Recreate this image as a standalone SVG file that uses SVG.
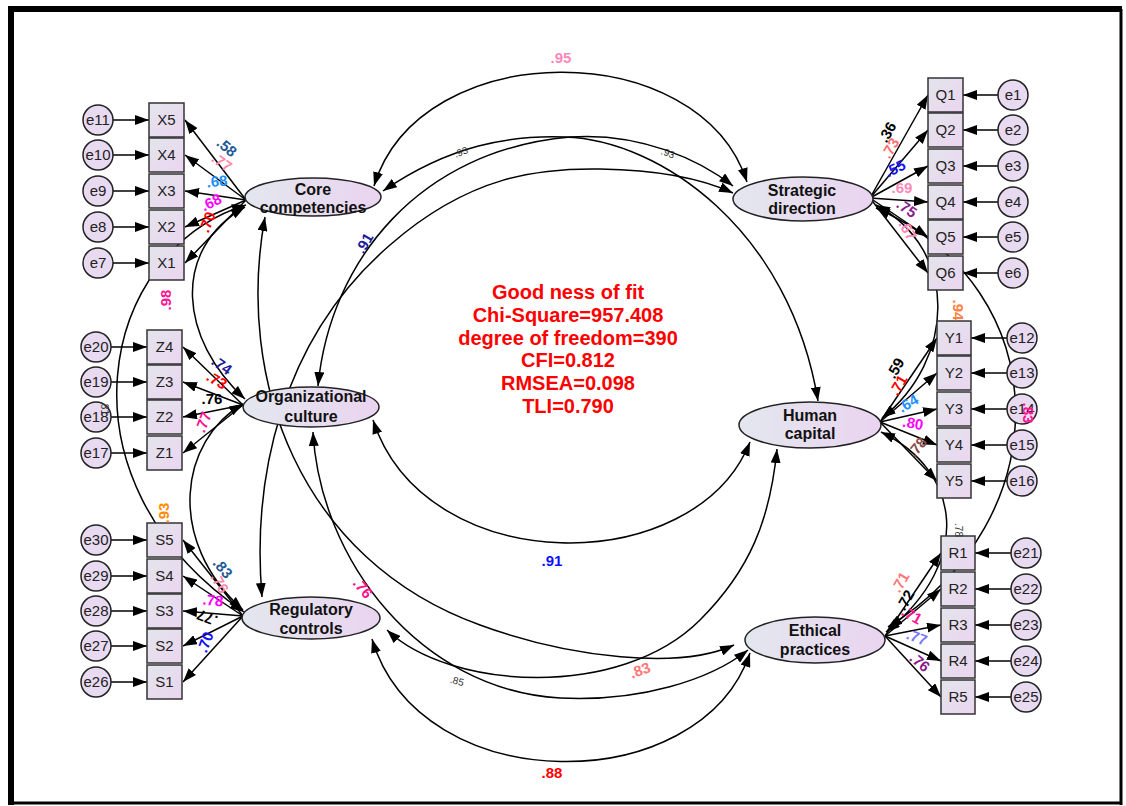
<svg xmlns="http://www.w3.org/2000/svg" width="1126" height="806" viewBox="0 0 1126 806">
<defs>
<linearGradient id="gBox" x1="0" y1="0" x2="1" y2="1"><stop offset="0" stop-color="#e3e5ec"/><stop offset="1" stop-color="#ebd5f0"/></linearGradient>
<linearGradient id="gLat" x1="0" y1="0" x2="1" y2="0"><stop offset="0" stop-color="#e3e7ee"/><stop offset="1" stop-color="#ead4f0"/></linearGradient>
<marker id="ar" viewBox="0 0 14 10" markerUnits="userSpaceOnUse" markerWidth="14" markerHeight="10" refX="14" refY="5" orient="auto-start-reverse"><path d="M0,0 L14,5 L0,10 z" fill="#000"/></marker>
</defs>
<style>
.box{fill:url(#gBox);stroke:#333;stroke-width:1.5}
.lat{fill:url(#gLat);stroke:#222;stroke-width:1.5}
.err{fill:#e8daf0;stroke:#222;stroke-width:1.5}
.t{font-family:"Liberation Sans",Arial,sans-serif;font-size:15px;fill:#222;text-anchor:middle}
.lt{font-family:"Liberation Sans",Arial,sans-serif;font-size:16px;font-weight:bold;fill:#111;text-anchor:middle}
.ln{stroke:#000;stroke-width:1.5;fill:none;marker-end:url(#ar)}
.cov{stroke:#000;stroke-width:1.5;fill:none;marker-start:url(#ar);marker-end:url(#ar)}
.l{font-family:"Liberation Sans",Arial,sans-serif;font-size:15px;font-weight:bold;text-anchor:middle;dominant-baseline:central}
.s{font-family:"Liberation Sans",Arial,sans-serif;font-size:10px;fill:#333;text-anchor:middle;dominant-baseline:central}
.fit{font-family:"Liberation Sans",Arial,sans-serif;font-size:20px;font-weight:bold;fill:#ff0000;text-anchor:middle}
</style>
<rect x="0" y="0" width="1126" height="806" fill="#fff"/>
<g id="frame" stroke="#000" fill="none">
<line x1="8" y1="9" x2="1122" y2="9" stroke-width="6"/>
<line x1="11" y1="6" x2="11" y2="805" stroke-width="6"/>
<line x1="1121" y1="9" x2="1121" y2="805" stroke-width="3"/>
<line x1="8" y1="803" x2="1122" y2="803" stroke-width="3"/>
</g>

<g id="connectors">
<path class="ln" d="M246,200 L185,120"/><path class="ln" d="M246,200 L185,155"/><path class="ln" d="M246,200 L185,191"/><path class="ln" d="M246,200 L185,227"/><path class="ln" d="M246,200 L185,263"/>
<path class="ln" d="M243,405 L183,347"/><path class="ln" d="M243,405 L183,382"/><path class="ln" d="M243,405 L183,417"/><path class="ln" d="M243,405 L183,453"/>
<path class="ln" d="M243,616 L183,540"/><path class="ln" d="M243,616 L183,576"/><path class="ln" d="M243,616 L183,611"/><path class="ln" d="M243,616 L183,646"/><path class="ln" d="M243,616 L183,682"/>
<path class="ln" d="M870,198 L928,95"/><path class="ln" d="M870,198 L928,130"/><path class="ln" d="M870,198 L928,166"/><path class="ln" d="M870,198 L928,202"/><path class="ln" d="M870,198 L928,237"/><path class="ln" d="M870,198 L928,273"/>
<path class="ln" d="M880,422 L937,338"/><path class="ln" d="M880,422 L937,373"/><path class="ln" d="M880,422 L937,409"/><path class="ln" d="M880,422 L937,445"/><path class="ln" d="M880,422 L937,481"/>
<path class="ln" d="M885,636 L941,553"/><path class="ln" d="M885,636 L941,589"/><path class="ln" d="M885,636 L941,625"/><path class="ln" d="M885,636 L941,661"/><path class="ln" d="M885,636 L941,697"/>
<path class="ln" d="M113,120 L149,120"/><path class="ln" d="M113,155 L149,155"/><path class="ln" d="M113,191 L149,191"/><path class="ln" d="M113,227 L149,227"/><path class="ln" d="M113,263 L149,263"/>
<path class="ln" d="M111,347 L147,347"/><path class="ln" d="M111,382 L147,382"/><path class="ln" d="M111,417 L147,417"/><path class="ln" d="M111,453 L147,453"/>
<path class="ln" d="M111,540 L147,540"/><path class="ln" d="M111,576 L147,576"/><path class="ln" d="M111,611 L147,611"/><path class="ln" d="M111,646 L147,646"/><path class="ln" d="M111,682 L147,682"/>
<path class="ln" d="M998,95 L963,95"/><path class="ln" d="M998,130 L963,130"/><path class="ln" d="M998,166 L963,166"/><path class="ln" d="M998,202 L963,202"/><path class="ln" d="M998,237 L963,237"/><path class="ln" d="M998,273 L963,273"/>
<path class="ln" d="M1007,338 L971,338"/><path class="ln" d="M1007,373 L971,373"/><path class="ln" d="M1007,409 L971,409"/><path class="ln" d="M1007,445 L971,445"/><path class="ln" d="M1007,481 L971,481"/>
<path class="ln" d="M1011,553 L975,553"/><path class="ln" d="M1011,589 L975,589"/><path class="ln" d="M1011,625 L975,625"/><path class="ln" d="M1011,661 L975,661"/><path class="ln" d="M1011,697 L975,697"/>
<path class="cov" d="M374,186 C420,35 700,35 747,182"/>
<path class="cov" d="M383,191 C450,145 510,135 565,137 C660,140 790,230 818,401"/>
<path class="cov" d="M318,386 C330,260 420,150 570,137 C640,132 700,160 733,186"/>
<path class="cov" d="M262,597 C252,480 280,340 390,245 C470,175 540,168 600,169 C660,170 705,180 733,193"/>
<path class="cov" d="M245,207 C170,250 180,340 245,399"/>
<path class="cov" d="M246,205 C100,250 50,480 244,612"/>
<path class="cov" d="M243,404 C180,440 165,540 243,610"/>
<path class="cov" d="M876,205 C960,250 955,360 882,418"/>
<path class="cov" d="M876,208 C1060,290 1060,520 888,627"/>
<path class="cov" d="M881,432 C960,470 975,560 886,632"/>
<path class="cov" d="M373,420 C425,580 695,580 750,442"/>
<path class="cov" d="M372,639 C420,800 700,800 750,653"/>
<path class="cov" d="M387,630 C450,690 620,700 700,620 C750,570 770,520 777,449"/>
<path class="cov" d="M265,217 C235,380 300,560 480,625 C570,658 680,670 734,645"/>
<path class="cov" d="M313,432 C320,560 420,690 560,698 C640,702 710,680 748,650"/>
</g>

<g id="lat-CC"><ellipse class="lat" cx="313" cy="197" rx="68" ry="19"/><text class="lt" x="313" y="195">Core</text><text class="lt" x="313" y="213">competencies</text></g>
<g id="lat-OC"><ellipse class="lat" cx="311" cy="407" rx="68" ry="20"/><text class="lt" x="311" y="402">Organizational</text><text class="lt" x="311" y="422">culture</text></g>
<g id="lat-RC"><ellipse class="lat" cx="311" cy="618" rx="69" ry="21"/><text class="lt" x="311" y="615">Regulatory</text><text class="lt" x="311" y="634">controls</text></g>
<g id="lat-SD"><ellipse class="lat" cx="803" cy="199" rx="70" ry="22"/><text class="lt" x="802" y="196">Strategic</text><text class="lt" x="802" y="214">direction</text></g>
<g id="lat-HC"><ellipse class="lat" cx="810" cy="425" rx="71" ry="23"/><text class="lt" x="810" y="421">Human</text><text class="lt" x="810" y="439">capital</text></g>
<g id="lat-EP"><ellipse class="lat" cx="815" cy="640" rx="70" ry="23"/><text class="lt" x="815" y="636">Ethical</text><text class="lt" x="815" y="655">practices</text></g>

<g id="obs-X5"><rect class="box" x="149" y="103" width="35" height="34"/><text class="t" x="166.5" y="125">X5</text></g>
<g id="obs-X4"><rect class="box" x="149" y="138" width="35" height="34"/><text class="t" x="166.5" y="160">X4</text></g>
<g id="obs-X3"><rect class="box" x="149" y="174" width="35" height="34"/><text class="t" x="166.5" y="196">X3</text></g>
<g id="obs-X2"><rect class="box" x="149" y="210" width="35" height="34"/><text class="t" x="166.5" y="232">X2</text></g>
<g id="obs-X1"><rect class="box" x="149" y="246" width="35" height="34"/><text class="t" x="166.5" y="268">X1</text></g>
<g id="obs-Z4"><rect class="box" x="147" y="330" width="35" height="34"/><text class="t" x="164.5" y="352">Z4</text></g>
<g id="obs-Z3"><rect class="box" x="147" y="365" width="35" height="34"/><text class="t" x="164.5" y="387">Z3</text></g>
<g id="obs-Z2"><rect class="box" x="147" y="400" width="35" height="34"/><text class="t" x="164.5" y="422">Z2</text></g>
<g id="obs-Z1"><rect class="box" x="147" y="436" width="35" height="34"/><text class="t" x="164.5" y="458">Z1</text></g>
<g id="obs-S5"><rect class="box" x="147" y="523" width="35" height="34"/><text class="t" x="164.5" y="545">S5</text></g>
<g id="obs-S4"><rect class="box" x="147" y="559" width="35" height="34"/><text class="t" x="164.5" y="581">S4</text></g>
<g id="obs-S3"><rect class="box" x="147" y="594" width="35" height="34"/><text class="t" x="164.5" y="616">S3</text></g>
<g id="obs-S2"><rect class="box" x="147" y="629" width="35" height="34"/><text class="t" x="164.5" y="651">S2</text></g>
<g id="obs-S1"><rect class="box" x="147" y="665" width="35" height="34"/><text class="t" x="164.5" y="687">S1</text></g>
<g id="obs-Q1"><rect class="box" x="928" y="78" width="35" height="34"/><text class="t" x="945.5" y="100">Q1</text></g>
<g id="obs-Q2"><rect class="box" x="928" y="113" width="35" height="34"/><text class="t" x="945.5" y="135">Q2</text></g>
<g id="obs-Q3"><rect class="box" x="928" y="149" width="35" height="34"/><text class="t" x="945.5" y="171">Q3</text></g>
<g id="obs-Q4"><rect class="box" x="928" y="185" width="35" height="34"/><text class="t" x="945.5" y="207">Q4</text></g>
<g id="obs-Q5"><rect class="box" x="928" y="220" width="35" height="34"/><text class="t" x="945.5" y="242">Q5</text></g>
<g id="obs-Q6"><rect class="box" x="928" y="256" width="35" height="34"/><text class="t" x="945.5" y="278">Q6</text></g>
<g id="obs-Y1"><rect class="box" x="937" y="321" width="34" height="34"/><text class="t" x="954" y="343">Y1</text></g>
<g id="obs-Y2"><rect class="box" x="937" y="356" width="34" height="34"/><text class="t" x="954" y="378">Y2</text></g>
<g id="obs-Y3"><rect class="box" x="937" y="392" width="34" height="34"/><text class="t" x="954" y="414">Y3</text></g>
<g id="obs-Y4"><rect class="box" x="937" y="428" width="34" height="34"/><text class="t" x="954" y="450">Y4</text></g>
<g id="obs-Y5"><rect class="box" x="937" y="464" width="34" height="34"/><text class="t" x="954" y="486">Y5</text></g>
<g id="obs-R1"><rect class="box" x="941" y="536" width="34" height="34"/><text class="t" x="958" y="558">R1</text></g>
<g id="obs-R2"><rect class="box" x="941" y="572" width="34" height="34"/><text class="t" x="958" y="594">R2</text></g>
<g id="obs-R3"><rect class="box" x="941" y="608" width="34" height="34"/><text class="t" x="958" y="630">R3</text></g>
<g id="obs-R4"><rect class="box" x="941" y="644" width="34" height="34"/><text class="t" x="958" y="666">R4</text></g>
<g id="obs-R5"><rect class="box" x="941" y="680" width="34" height="34"/><text class="t" x="958" y="702">R5</text></g>

<g id="err-e11"><circle class="err" cx="98" cy="120" r="15"/><text class="t" x="98" y="125">e11</text></g>
<g id="err-e10"><circle class="err" cx="98" cy="155" r="15"/><text class="t" x="98" y="160">e10</text></g>
<g id="err-e9"><circle class="err" cx="98" cy="191" r="15"/><text class="t" x="98" y="196">e9</text></g>
<g id="err-e8"><circle class="err" cx="98" cy="227" r="15"/><text class="t" x="98" y="232">e8</text></g>
<g id="err-e7"><circle class="err" cx="98" cy="263" r="15"/><text class="t" x="98" y="268">e7</text></g>
<g id="err-e20"><circle class="err" cx="96" cy="347" r="15"/><text class="t" x="96" y="352">e20</text></g>
<g id="err-e19"><circle class="err" cx="96" cy="382" r="15"/><text class="t" x="96" y="387">e19</text></g>
<g id="err-e18"><circle class="err" cx="96" cy="417" r="15"/><text class="t" x="96" y="422">e18</text></g>
<g id="err-e17"><circle class="err" cx="96" cy="453" r="15"/><text class="t" x="96" y="458">e17</text></g>
<g id="err-e30"><circle class="err" cx="96" cy="540" r="15"/><text class="t" x="96" y="545">e30</text></g>
<g id="err-e29"><circle class="err" cx="96" cy="576" r="15"/><text class="t" x="96" y="581">e29</text></g>
<g id="err-e28"><circle class="err" cx="96" cy="611" r="15"/><text class="t" x="96" y="616">e28</text></g>
<g id="err-e27"><circle class="err" cx="96" cy="646" r="15"/><text class="t" x="96" y="651">e27</text></g>
<g id="err-e26"><circle class="err" cx="96" cy="682" r="15"/><text class="t" x="96" y="687">e26</text></g>
<g id="err-e1"><circle class="err" cx="1013" cy="95" r="15"/><text class="t" x="1013" y="100">e1</text></g>
<g id="err-e2"><circle class="err" cx="1013" cy="130" r="15"/><text class="t" x="1013" y="135">e2</text></g>
<g id="err-e3"><circle class="err" cx="1013" cy="166" r="15"/><text class="t" x="1013" y="171">e3</text></g>
<g id="err-e4"><circle class="err" cx="1013" cy="202" r="15"/><text class="t" x="1013" y="207">e4</text></g>
<g id="err-e5"><circle class="err" cx="1013" cy="237" r="15"/><text class="t" x="1013" y="242">e5</text></g>
<g id="err-e6"><circle class="err" cx="1013" cy="273" r="15"/><text class="t" x="1013" y="278">e6</text></g>
<g id="err-e12"><circle class="err" cx="1022" cy="338" r="15"/><text class="t" x="1022" y="343">e12</text></g>
<g id="err-e13"><circle class="err" cx="1022" cy="373" r="15"/><text class="t" x="1022" y="378">e13</text></g>
<g id="err-e14"><circle class="err" cx="1022" cy="409" r="15"/><text class="t" x="1022" y="414">e14</text></g>
<g id="err-e15"><circle class="err" cx="1022" cy="445" r="15"/><text class="t" x="1022" y="450">e15</text></g>
<g id="err-e16"><circle class="err" cx="1022" cy="481" r="15"/><text class="t" x="1022" y="486">e16</text></g>
<g id="err-e21"><circle class="err" cx="1026" cy="553" r="15"/><text class="t" x="1026" y="558">e21</text></g>
<g id="err-e22"><circle class="err" cx="1026" cy="589" r="15"/><text class="t" x="1026" y="594">e22</text></g>
<g id="err-e23"><circle class="err" cx="1026" cy="625" r="15"/><text class="t" x="1026" y="630">e23</text></g>
<g id="err-e24"><circle class="err" cx="1026" cy="661" r="15"/><text class="t" x="1026" y="666">e24</text></g>
<g id="err-e25"><circle class="err" cx="1026" cy="697" r="15"/><text class="t" x="1026" y="702">e25</text></g>

<g id="labels">
<text class="l" fill="#1d5a96" transform="translate(227,147) rotate(40)">.58</text>
<text class="l" fill="#ff88aa" transform="translate(222,162) rotate(35)">.77</text>
<text class="l" fill="#1e90ff" transform="translate(217,181) rotate(-5)">.68</text>
<text class="l" fill="#ff00ff" transform="translate(211,202) rotate(-25)">.68</text>
<text class="l" fill="#ff0000" transform="translate(207,222) rotate(-70)">.70</text>
<text class="l" fill="#1c1c9c" transform="translate(222,365) rotate(35)">.74</text>
<text class="l" fill="#ff0000" transform="translate(217,380) rotate(30)">.73</text>
<text class="l" fill="#000" transform="translate(212,398)">.76</text>
<text class="l" fill="#ff1493" transform="translate(203,422) rotate(-70)">.77</text>
<text class="l" fill="#1d5a96" transform="translate(223,568) rotate(50)">.83</text>
<text class="l" fill="#ff88aa" transform="translate(220,583) rotate(60)">.76</text>
<text class="l" fill="#ff00ff" transform="translate(213,600) rotate(5)">.78</text>
<text class="l" fill="#000" transform="translate(207,618) rotate(200)">.77</text>
<text class="l" fill="#1010ff" transform="translate(205,642) rotate(-70)">.70</text>
<text class="l" fill="#000" transform="translate(887,132) rotate(-60)">.36</text>
<text class="l" fill="#ff6f6f" transform="translate(890,148) rotate(-60)">.73</text>
<text class="l" fill="#1010ff" transform="translate(895,168) rotate(-25)">.55</text>
<text class="l" fill="#ff88bb" transform="translate(902,187)">.69</text>
<text class="l" fill="#8b1c8b" transform="translate(907,208) rotate(35)">.75</text>
<text class="l" fill="#ff88bb" transform="translate(908,230) rotate(60)">.67</text>
<text class="l" fill="#000" transform="translate(895,368) rotate(-60)">.59</text>
<text class="l" fill="#ff0000" transform="translate(898,385) rotate(-60)">.71</text>
<text class="l" fill="#1e90ff" transform="translate(908,403) rotate(-30)">.64</text>
<text class="l" fill="#ff00ff" transform="translate(913,423) rotate(10)">.80</text>
<text class="l" fill="#8b4a4a" transform="translate(917,447) rotate(-50)">.78</text>
<text class="l" fill="#ff7777" transform="translate(900,582) rotate(-60)">.71</text>
<text class="l" fill="#000" transform="translate(905,600) rotate(-60)">.72</text>
<text class="l" fill="#ff1493" transform="translate(912,615) rotate(30)">.71</text>
<text class="l" fill="#7777ff" transform="translate(917,637) rotate(20)">.77</text>
<text class="l" fill="#8b1c8b" transform="translate(920,662) rotate(40)">.76</text>
<text class="l" fill="#ff88bb" x="561" y="57">.95</text>
<text class="s" transform="translate(461,152) rotate(-20)">.93</text>
<text class="s" transform="translate(668,153) rotate(20)">.93</text>
<text class="l" fill="#1c1c9c" transform="translate(364,243) rotate(-60)">.91</text>
<text class="l" fill="#ff1493" transform="translate(165,300) rotate(-90)">.98</text>
<text class="s" transform="translate(104,408) rotate(90)">.81</text>
<text class="l" fill="#ff8c00" transform="translate(163,513) rotate(-90)">.93</text>
<text class="l" fill="#ff8040" transform="translate(958,310) rotate(90)">.94</text>
<text class="l" fill="#ff1493" transform="translate(1028,413) rotate(90)">.83</text>
<text class="s" transform="translate(958,530) rotate(90)">.78</text>
<text class="l" fill="#1010ff" x="552" y="560">.91</text>
<text class="l" fill="#ff1493" transform="translate(363,588) rotate(50)">.76</text>
<text class="s" transform="translate(457,681) rotate(15)">.85</text>
<text class="l" fill="#ff7777" transform="translate(640,670) rotate(-20)">.83</text>
<text class="l" fill="#ff0000" x="552" y="772">.88</text>
</g>

<g id="fit">
<text class="fit" x="568" y="299">Good ness of fit</text>
<text class="fit" x="568" y="322">Chi-Square=957.408</text>
<text class="fit" x="568" y="345">degree of freedom=390</text>
<text class="fit" x="568" y="367">CFI=0.812</text>
<text class="fit" x="568" y="390">RMSEA=0.098</text>
<text class="fit" x="568" y="413">TLI=0.790</text>
</g>
</svg>
